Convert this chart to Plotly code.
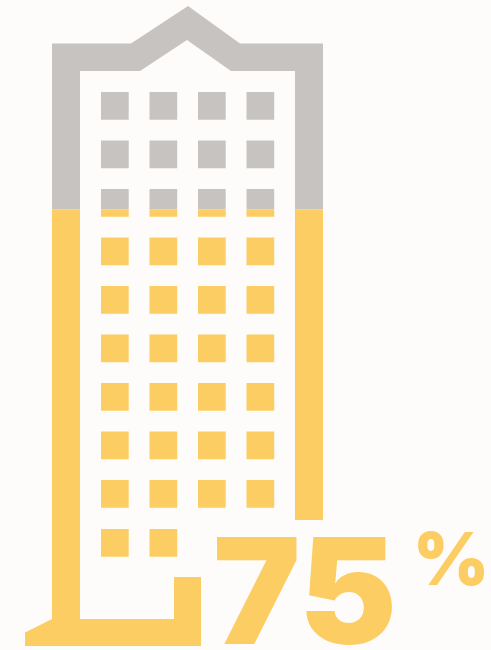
import plotly.graph_objects as go

PERCENT_LABEL = "75"
UNIT_LABEL = "%"

# Building silhouette, in canvas units
outline_x = [25, 25, 52, 52, 131, 188, 240, 323, 323, 295, 295, 231, 187, 140, 80, 80, 174, 174, 201, 201]
outline_y = [646, 632.5, 619, 43.5, 43.5, 6, 43.5, 43.5, 520, 520, 71, 71, 40, 71, 71, 619, 619, 577, 577, 646]

# Window grid
window_left = [101, 149.5, 198, 246.5]
window_top = [92, 140.5, 189, 237.5, 286, 334.5, 383, 431.5, 480, 529]
window_size = 27.7
last_row_columns = 2

fill_level = 209.5

GREY = "#C6C3C0"
YELLOW = "#FBCD62"
PAPER = "#FDFCFA"


def clip(xs, ys, keep_above):
    """Cut a polygon along the fill level, keeping one side."""
    inside = (lambda v: v <= fill_level) if keep_above else (lambda v: v >= fill_level)
    out_x, out_y = [], []
    n = len(xs)
    for i in range(n):
        x0, y0, x1, y1 = xs[i], ys[i], xs[(i + 1) % n], ys[(i + 1) % n]
        if inside(y0):
            out_x.append(x0)
            out_y.append(y0)
        if inside(y0) != inside(y1):
            t = (fill_level - y0) / (y1 - y0)
            out_x.append(x0 + t * (x1 - x0))
            out_y.append(fill_level)
    return out_x, out_y


def collect(keep_above):
    all_x, all_y = clip(outline_x, outline_y, keep_above)
    for r, top in enumerate(window_top):
        columns = window_left[:last_row_columns] if r == len(window_top) - 1 else window_left
        for left in columns:
            sq_x = [left, left + window_size, left + window_size, left]
            sq_y = [top, top, top + window_size, top + window_size]
            cx, cy = clip(sq_x, sq_y, keep_above)
            if cx:
                all_x += [None] + cx + [cx[0]]
                all_y += [None] + cy + [cy[0]]
    return all_x, all_y


fig = go.Figure()
for keep_above, colour in ((True, GREY), (False, YELLOW)):
    px, py = collect(keep_above)
    fig.add_trace(go.Scatter(x=px, y=py, mode="lines", fill="toself", fillcolor=colour,
                             line=dict(width=0, color=colour), hoverinfo="skip", showlegend=False))

fig.add_annotation(x=304.5, y=590.5, text=PERCENT_LABEL, showarrow=False, xanchor="center", yanchor="middle",
                   font=dict(family="Inter", size=147, color=YELLOW, weight=900))
fig.add_annotation(x=450.5, y=558.5, text=UNIT_LABEL, showarrow=False, xanchor="center", yanchor="middle",
                   font=dict(family="Inter", size=73, color=YELLOW, weight=900))

fig.update_layout(
    width=491, height=650, margin=dict(l=0, r=0, t=0, b=0),
    paper_bgcolor=PAPER, plot_bgcolor=PAPER,
    xaxis=dict(range=[0, 491], visible=False, fixedrange=True),
    yaxis=dict(range=[650, 0], visible=False, fixedrange=True),
)
fig.write_html("out.html", config={"displayModeBar": False})
